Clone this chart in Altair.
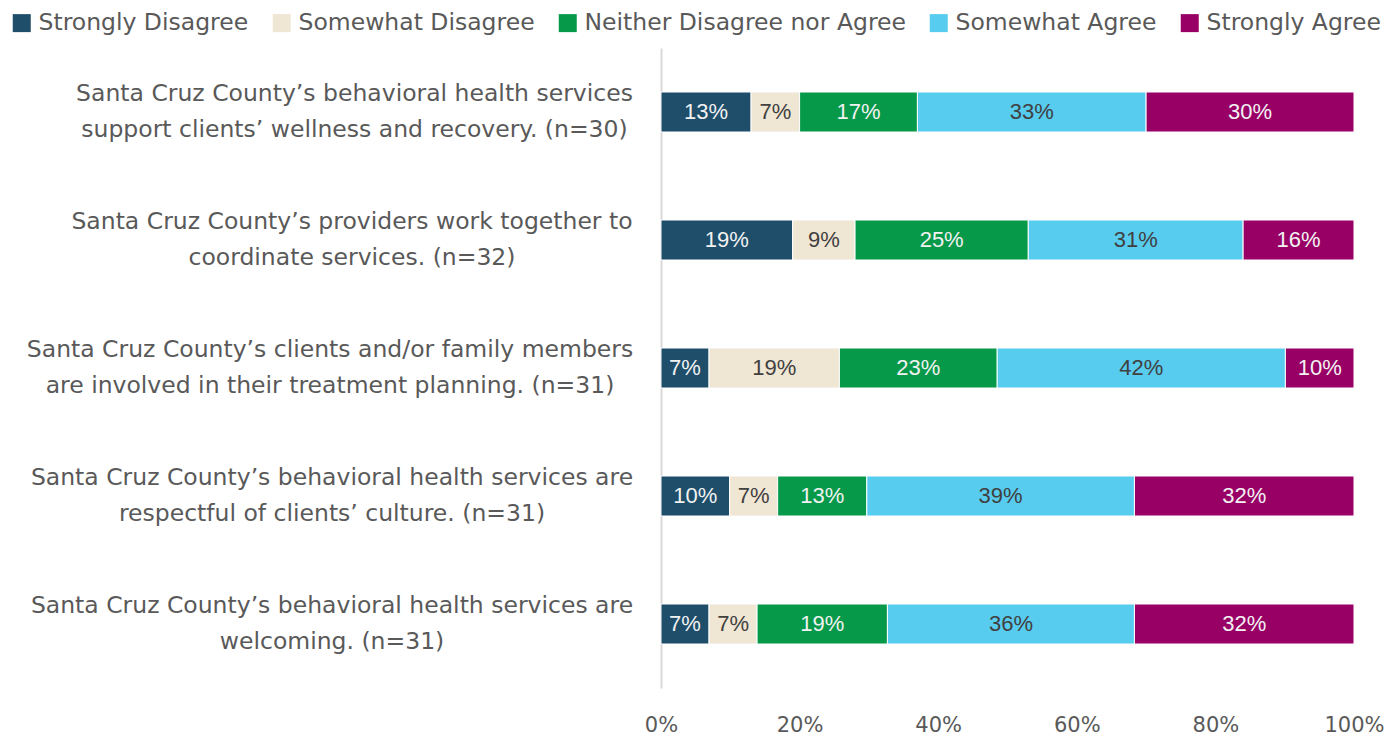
import altair as alt
import pandas as pd

questions = [
    "Santa Cruz County’s behavioral health services|support clients’ wellness and recovery. (n=30)",
    "Santa Cruz County’s providers work together to|coordinate services. (n=32)",
    "Santa Cruz County’s clients and/or family members|are involved in their treatment planning. (n=31)",
    "Santa Cruz County’s behavioral health services are|respectful of clients’ culture. (n=31)",
    "Santa Cruz County’s behavioral health services are|welcoming. (n=31)",
]
categories = ["Strongly Disagree", "Somewhat Disagree", "Neither Disagree nor Agree",
              "Somewhat Agree", "Strongly Agree"]
colors = ["#1F4E6B", "#F0E6D4", "#06994A", "#57CCEF", "#990066"]
text_colors = ["#F2F2F2", "#404040", "#F2F2F2", "#404040", "#F2F2F2"]

strongly_disagree = [13, 19, 7, 10, 7]
somewhat_disagree = [7, 9, 19, 7, 7]
neither = [17, 25, 23, 13, 19]
somewhat_agree = [33, 31, 42, 39, 36]
strongly_agree = [30, 16, 10, 32, 32]

series = [strongly_disagree, somewhat_disagree, neither, somewhat_agree, strongly_agree]
rows = []
for qi, q in enumerate(questions):
    for ci, c in enumerate(categories):
        rows.append({"question": q, "category": c, "order": ci,
                     "value": series[ci][qi], "tcolor": text_colors[ci]})
df = pd.DataFrame(rows)

FONT = "DejaVu Sans"
BARFONT = "Liberation Sans"
GRAY = "#595959"
LFS = 23.5

base = alt.Chart(df).transform_stack(
    stack="value", groupby=["question"], as_=["x0", "x1"],
    offset="normalize", sort=[alt.SortField("order", order="ascending")]
).transform_calculate(
    mid="(datum.x0 + datum.x1) / 2",
    label="datum.value + '%'"
)

label_pad = {
    "condition": [
        {"test": "indexof(datum.value, 'clients and') >= 0", "value": 331.5},
        {"test": "indexof(datum.value, 'services are') >= 0", "value": 329.5},
        {"test": "indexof(datum.value, 'providers') >= 0", "value": 309.5},
    ],
    "value": 307,
}

yenc = alt.Y("question:N", sort=questions, title=None,
             scale=alt.Scale(paddingInner=0.6875, paddingOuter=0.34375),
             axis=alt.Axis(labelExpr="split(datum.label, '|')", labelFontSize=LFS,
                           labelColor=GRAY, labelFont=FONT, labelLineHeight=36,
                           labelPadding=label_pad, labelOffset=-18, ticks=False,
                           domainColor="#D9D9D9", domainWidth=2, labelLimit=700,
                           minExtent=648, maxExtent=648,
                           labelAlign="center", labelBaseline="middle"))

bars = base.mark_bar(stroke="white", strokeWidth=1).encode(
    x=alt.X("x0:Q", scale=alt.Scale(domain=[0, 1]), title=None,
            axis=alt.Axis(format=".0%", values=[0, 0.2, 0.4, 0.6, 0.8, 1.0], grid=False,
                          domain=False, ticks=False, labelFontSize=21, labelColor=GRAY,
                          labelFont=FONT, labelPadding=26, labelFlush=False)),
    x2="x1:Q",
    y=yenc,
    color=alt.Color("category:N", sort=categories,
                    scale=alt.Scale(domain=categories, range=colors),
                    legend=alt.Legend(title=None, orient="none", direction="horizontal",
                                      legendX=-651, legendY=-37, labelFontSize=LFS,
                                      labelFont=FONT, labelColor=GRAY, symbolType="square",
                                      symbolSize=324, symbolStrokeWidth=0, columnPadding=21,
                                      labelOffset=5, labelLimit=400)),
)

text = base.mark_text(fontSize=22, font=BARFONT).encode(
    x="mid:Q",
    y=alt.Y("question:N", sort=questions),
    text="label:N",
    color=alt.Color("tcolor:N", scale=None),
)

chart = (bars + text).properties(
    width=693, height=640,
    padding={"left": 2, "top": 3, "right": 0, "bottom": 0},
).configure_view(stroke=None)

chart.save("out.html", embed_options={"renderer": "svg", "actions": False})
